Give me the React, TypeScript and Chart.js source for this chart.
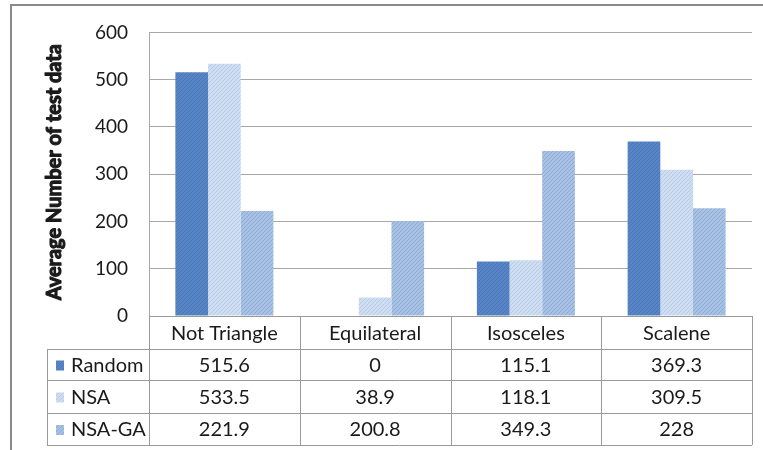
import React, { useEffect, useRef } from "react";
import { Chart, registerables } from "chart.js";

Chart.register(...registerables);

const categories = ["Not Triangle", "Equilateral", "Isosceles", "Scalene"];
const seriesNames = ["Random", "NSA", "NSA-GA"];
const randomValues = [515.6, 0, 115.1, 369.3];
const nsaValues = [533.5, 38.9, 118.1, 309.5];
const nsaGaValues = [221.9, 200.8, 349.3, 228];
const yTicks = [0, 100, 200, 300, 400, 500, 600];
const yTitle = "Average Number of test data";

const FONT = "Lato, 'Liberation Sans', sans-serif";

// base fill and hatch line colour per series
const fills: [string, string][] = [
  ["#5784c4", "#4a77b7"],
  ["#cfddf0", "#b9cce7"],
  ["#a7c1e3", "#8fabd6"],
];

function hatch(base: string, line: string): CanvasPattern | string {
  const c = document.createElement("canvas");
  c.width = 4;
  c.height = 4;
  const g = c.getContext("2d");
  if (!g) return base;
  g.fillStyle = base;
  g.fillRect(0, 0, 4, 4);
  g.fillStyle = line;
  for (let i = 0; i < 4; i++) g.fillRect(3 - i, i, 1, 1);
  const p = g.createPattern(c, "repeat");
  return p || base;
}

const tablePlugin = {
  id: "dataTable",
  afterDraw(chart: any) {
    const ctx: CanvasRenderingContext2D = chart.ctx;
    const area = chart.chartArea;
    const xs = chart.scales.x;
    const n = categories.length;
    const colW = (area.right - area.left) / n;
    const top = area.bottom;
    const rowEdges = [top, top + 33, top + 64, top + 97, top + 129];
    const tableLeft = 47;

    ctx.save();
    // outer frame
    ctx.strokeStyle = "#8a8a8a";
    ctx.lineWidth = 2;
    ctx.beginPath();
    ctx.moveTo(11, 450);
    ctx.lineTo(11, 5);
    ctx.lineTo(763, 5);
    ctx.stroke();

    // table grid
    ctx.strokeStyle = "#9a9a9a";
    ctx.lineWidth = 1;
    ctx.beginPath();
    ctx.moveTo(area.left, top + 0.5);
    ctx.lineTo(area.right, top + 0.5);
    for (let r = 1; r < rowEdges.length; r++) {
      const y = Math.round(rowEdges[r]) + 0.5;
      ctx.moveTo(tableLeft, y);
      ctx.lineTo(area.right, y);
    }
    ctx.moveTo(tableLeft + 0.5, rowEdges[1]);
    ctx.lineTo(tableLeft + 0.5, rowEdges[4]);
    for (let i = 0; i <= n; i++) {
      const x = Math.round(area.left + colW * i) + 0.5;
      ctx.moveTo(x, top);
      ctx.lineTo(x, rowEdges[4]);
    }
    ctx.stroke();

    ctx.fillStyle = "#1a1a1a";
    ctx.font = `20px ${FONT}`;
    ctx.textAlign = "center";
    ctx.textBaseline = "middle";
    categories.forEach((c, i) => {
      ctx.fillText(c, xs.getPixelForValue(i), (rowEdges[0] + rowEdges[1]) / 2 + 1);
    });

    const rows = [randomValues, nsaValues, nsaGaValues];
    rows.forEach((vals, r) => {
      const yc = (rowEdges[r + 1] + rowEdges[r + 2]) / 2 + 1;
      ctx.textAlign = "center";
      vals.forEach((v, i) => {
        ctx.fillText(String(v), xs.getPixelForValue(i), yc);
      });
      // legend key
      const ds = chart.data.datasets[r];
      ctx.fillStyle = ds.backgroundColor;
      ctx.fillRect(56, yc - 5, 8, 10);
      ctx.fillStyle = "#1a1a1a";
      ctx.textAlign = "left";
      ctx.fillText(seriesNames[r], 71, yc);
    });

    // axis title, thickened with a stroke of the same colour
    ctx.font = `bold 20px ${FONT}`;
    ctx.textAlign = "center";
    ctx.strokeStyle = "#1a1a1a";
    ctx.lineWidth = 1.1;
    ctx.lineJoin = "round";
    ctx.translate(55, (area.top + area.bottom) / 2 - 2);
    ctx.rotate(-Math.PI / 2);
    ctx.strokeText(yTitle, 0, 0);
    ctx.fillText(yTitle, 0, 0);
    ctx.restore();
  },
};

export default function App() {
  const ref = useRef<HTMLCanvasElement>(null);

  useEffect(() => {
    if (!ref.current) return;
    const seriesData = [randomValues, nsaValues, nsaGaValues];
    const chart = new Chart(ref.current, {
      type: "bar",
      data: {
        labels: categories,
        datasets: seriesNames.map((name, i) => ({
          label: name,
          data: seriesData[i],
          backgroundColor: hatch(fills[i][0], fills[i][1]) as any,
          borderColor: fills[i][1],
          borderWidth: 0,
          categoryPercentage: 0.65,
          barPercentage: 1,
        })),
      },
      options: {
        responsive: false,
        animation: false,
        devicePixelRatio: 1,
        layout: { padding: { top: 29, right: 11, bottom: 134, left: 0 } },
        plugins: {
          legend: { display: false },
          tooltip: { enabled: false },
        },
        scales: {
          x: { display: false, grid: { display: false } },
          y: {
            min: 0,
            max: 600,
            afterBuildTicks: (s: any) => {
              s.ticks = yTicks.map((v) => ({ value: v }));
            },
            afterFit: (s: any) => {
              s.width = 149;
            },
            grid: { color: "#a8a8a8", drawTicks: false, lineWidth: 1 },
            border: { display: true, color: "#a8a8a8" },
            ticks: {
              padding: 21,
              color: "#1a1a1a",
              font: { family: FONT, size: 19 },
            },
          },
        },
      },
      plugins: [tablePlugin],
    });
    return () => chart.destroy();
  }, []);

  return (
    <div style={{ position: "absolute", left: 0, top: 0, width: 763, height: 450, background: "#fff" }}>
      <canvas ref={ref} width={763} height={450} />
    </div>
  );
}
